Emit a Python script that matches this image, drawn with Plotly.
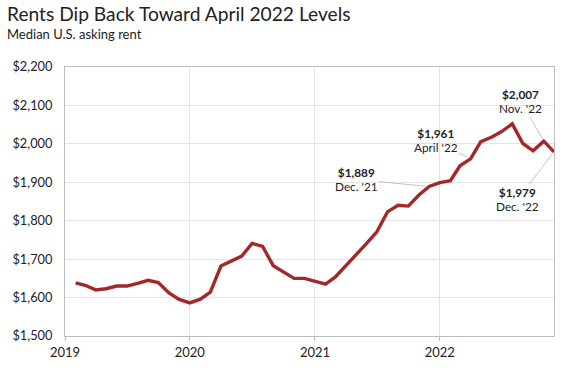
import pandas as pd
import plotly.graph_objects as go

# ---- data -------------------------------------------------------------
months = pd.date_range("2019-02-01", "2022-12-01", freq="MS")
rent = [
    1638, 1632, 1620, 1623, 1630, 1630, 1637, 1645, 1639, 1612, 1595,          # 2019 Feb-Dec
    1586, 1596, 1614, 1682, 1695, 1708, 1741, 1733, 1683, 1667, 1650, 1650,    # 2020
    1642, 1635, 1653, 1682, 1713, 1741, 1771, 1823, 1840, 1838, 1867, 1889,    # 2021
    1899, 1904, 1943, 1961, 2006, 2017, 2032, 2052, 2001, 1982, 2007, 1979,    # 2022
]
label_months = ["2021-12-01", "2022-04-01", "2022-11-01", "2022-12-01"]
label_dates = ["Dec. '21", "April '22", "Nov. '22", "Dec. '22"]
label_offsets = [(-73, -7), (-35, -18), (-23, -40), (-37, 48)]  # text offset in px

title = "Rents Dip Back Toward April 2022 Levels"
subtitle = "Median U.S. asking rent"

series = pd.Series(rent, index=months)

FONT = "Lato"
TXT = "#222222"

fig = go.Figure()
fig.add_trace(go.Scatter(
    x=series.index, y=series.values, mode="lines",
    line=dict(color="#a4272b", width=3.4), hoverinfo="skip",
))

annotations = []
for m, d, (ax, ay) in zip(label_months, label_dates, label_offsets):
    v = series[pd.Timestamp(m)]
    annotations.append(dict(
        x=pd.Timestamp(m), y=v, xref="x", yref="y",
        text=f"<span style='font-size:11.8px'><b>${v:,}</b></span><br>"
             f"<span style='font-size:11.8px'>{d}</span>",
        showarrow=True, arrowhead=0, arrowwidth=0.8, arrowcolor="#b5b5b5",
        ax=ax, ay=ay, standoff=3, align="center",
        font=dict(family=FONT, size=11, color=TXT),
    ))

fig.update_layout(
    width=583, height=377,
    margin=dict(l=57, r=29, t=67, b=41),
    paper_bgcolor="white", plot_bgcolor="white",
    showlegend=False,
    title=dict(
        text=f"<span style='font-size:19.2px'>{title}</span><br>"
             f"<span style='font-size:13px'>{subtitle}</span>",
        x=7 / 583, xref="container", xanchor="left",
        y=1 - 21 / 377, yref="container", yanchor="middle",
        font=dict(family=FONT, size=13.6, color=TXT)),
    annotations=annotations,
    xaxis=dict(
        range=["2019-01-01", "2022-12-01"], type="date",
        tick0="2019-01-01", dtick="M12", tickformat="%Y",
        showgrid=True, gridcolor="#e4e4e4", gridwidth=1,
        showline=True, linecolor="#bdbdbd", linewidth=1, mirror=True,
        ticks="outside", ticklen=4, tickcolor="#bdbdbd",
        tickfont=dict(family=FONT, size=13, color=TXT),
        zeroline=False, fixedrange=True,
    ),
    yaxis=dict(
        range=[1500, 2200], dtick=100, tickprefix="$", tickformat=",",
        showgrid=True, gridcolor="#e4e4e4", gridwidth=1,
        showline=True, linecolor="#bdbdbd", linewidth=1, mirror=True,
        ticks="", ticklabelstandoff=9,
        tickfont=dict(family=FONT, size=12.8, color=TXT),
        zeroline=False, fixedrange=True,
    ),
)

fig.write_html("out.html", config={"displayModeBar": False},
               post_script="document.body.style.margin='0';")
